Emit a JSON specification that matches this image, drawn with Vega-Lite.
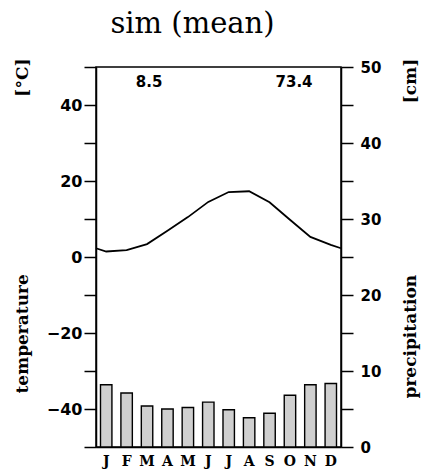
{
  "$schema": "https://vega.github.io/schema/vega-lite/v6.json",
  "width": 245,
  "height": 380,
  "autosize": "none",
  "padding": {"left": 96, "top": 67, "right": 86, "bottom": 27},
  "background": "white",
  "title": {
    "text": "sim (mean)",
    "font": "DejaVu Serif",
    "fontSize": 29,
    "fontWeight": "normal",
    "color": "black",
    "anchor": "middle",
    "frame": "group",
    "dx": -26,
    "offset": 19
  },
  "config": {
    "view": {"stroke": "black", "strokeWidth": 1.5},
    "axis": {
      "grid": false,
      "domainColor": "black",
      "domainWidth": 1.5,
      "tickColor": "black",
      "tickWidth": 1.5,
      "labelColor": "black",
      "titleColor": "black"
    }
  },
  "datasets": {
    "monthly": [
      {"month": "Jan", "precip": 8.2},
      {"month": "Feb", "precip": 7.1},
      {"month": "Mar", "precip": 5.4},
      {"month": "Apr", "precip": 5.0},
      {"month": "May", "precip": 5.2},
      {"month": "Jun", "precip": 5.9},
      {"month": "Jul", "precip": 4.9},
      {"month": "Aug", "precip": 3.85},
      {"month": "Sep", "precip": 4.45},
      {"month": "Oct", "precip": 6.8},
      {"month": "Nov", "precip": 8.2},
      {"month": "Dec", "precip": 8.35}
    ],
    "temperature": [
      {"m": 0.5, "temp": 2.3},
      {"m": 1, "temp": 1.45},
      {"m": 2, "temp": 1.8},
      {"m": 3, "temp": 3.4},
      {"m": 4, "temp": 6.9},
      {"m": 5, "temp": 10.5},
      {"m": 6, "temp": 14.5},
      {"m": 7, "temp": 17.1},
      {"m": 8, "temp": 17.3},
      {"m": 9, "temp": 14.4},
      {"m": 10, "temp": 9.8},
      {"m": 11, "temp": 5.3},
      {"m": 12, "temp": 3.2},
      {"m": 12.5, "temp": 2.3}
    ],
    "summary": [
      {"label": "8.5", "m": 3.1, "level": 46},
      {"label": "73.4", "m": 10.2, "level": 46}
    ]
  },
  "layer": [
    {
      "data": {"name": "monthly"},
      "mark": {"type": "bar", "fill": "#cfcfcf", "stroke": "black", "strokeWidth": 1.4},
      "encoding": {
        "x": {
          "field": "month",
          "type": "nominal",
          "sort": null,
          "scale": {"paddingInner": 0.44, "paddingOuter": 0.22},
          "axis": {
            "title": null,
            "orient": "bottom",
            "ticks": false,
            "labelAngle": 0,
            "labelPadding": 7,
            "labelFont": "DejaVu Serif",
            "labelFontWeight": "bold",
            "labelFontSize": 14,
            "labelExpr": "substring(datum.label, 0, 1)"
          }
        },
        "y": {
          "field": "precip",
          "type": "quantitative",
          "scale": {"domain": [0, 50], "nice": false},
          "axis": {
            "orient": "right",
            "values": [0, 5, 10, 15, 20, 25, 30, 35, 40, 45, 50],
            "labelExpr": "datum.value % 10 === 0 ? datum.label : ''",
            "tickSize": 12,
            "labelPadding": 7,
            "labelFont": "DejaVu Sans",
            "labelFontWeight": "bold",
            "labelFontSize": 15,
            "labelBaseline": "middle",
            "title": "precipitation\u00a0\u00a0\u00a0\u00a0\u00a0\u00a0\u00a0\u00a0\u00a0\u00a0\u00a0\u00a0\u00a0\u00a0\u00a0\u00a0\u00a0\u00a0\u00a0\u00a0\u00a0\u00a0\u00a0\u00a0\u00a0\u00a0\u00a0\u00a0\u00a0[cm]",
            "titleFont": "DejaVu Serif",
            "titleFontWeight": "bold",
            "titleFontSize": 17,
            "titleAngle": -90,
            "titleAlign": "left",
            "titleBaseline": "middle",
            "titleX": 69,
            "titleY": 331
          }
        }
      }
    },
    {
      "data": {"name": "temperature"},
      "mark": {"type": "line", "color": "black", "strokeWidth": 1.8},
      "encoding": {
        "x": {
          "field": "m",
          "type": "quantitative",
          "scale": {"domain": [0.5, 12.5], "nice": false, "zero": false},
          "axis": null
        },
        "y": {
          "field": "temp",
          "type": "quantitative",
          "scale": {"domain": [-50, 50], "nice": false},
          "axis": {
            "orient": "left",
            "values": [-50, -40, -30, -20, -10, 0, 10, 20, 30, 40, 50],
            "labelExpr": "datum.value % 20 === 0 && abs(datum.value) < 50 ? datum.label : ''",
            "tickSize": 12,
            "labelPadding": 2,
            "labelFont": "DejaVu Sans",
            "labelFontWeight": "bold",
            "labelFontSize": 16,
            "labelBaseline": "middle",
            "title": "temperature\u00a0\u00a0\u00a0\u00a0\u00a0\u00a0\u00a0\u00a0\u00a0\u00a0\u00a0\u00a0\u00a0\u00a0\u00a0\u00a0\u00a0\u00a0\u00a0\u00a0\u00a0\u00a0\u00a0\u00a0\u00a0\u00a0\u00a0\u00a0\u00a0\u00a0[°C]",
            "titleFont": "DejaVu Serif",
            "titleFontWeight": "bold",
            "titleFontSize": 17,
            "titleAngle": -90,
            "titleAlign": "left",
            "titleBaseline": "middle",
            "titleX": -74,
            "titleY": 326
          }
        }
      }
    },
    {
      "data": {"name": "summary"},
      "mark": {"type": "text", "font": "DejaVu Sans", "fontWeight": "bold", "fontSize": 15, "color": "black", "align": "center", "baseline": "middle"},
      "encoding": {
        "x": {"field": "m", "type": "quantitative", "scale": {"domain": [0.5, 12.5], "nice": false, "zero": false}, "axis": null},
        "y": {"field": "level", "type": "quantitative", "scale": {"domain": [-50, 50], "nice": false}, "axis": null},
        "text": {"field": "label"}
      }
    }
  ],
  "resolve": {"scale": {"x": "independent", "y": "independent"}}
}
